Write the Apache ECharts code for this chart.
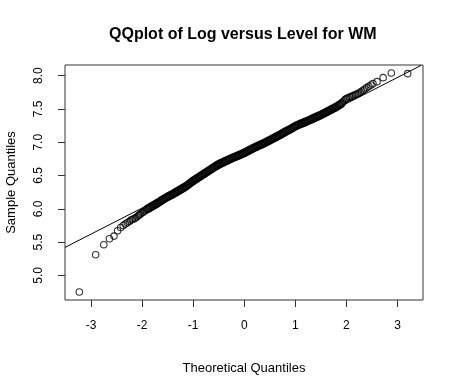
<!DOCTYPE html>
<html>
<head>
<meta charset="utf-8">
<script src="https://cdn.jsdelivr.net/npm/echarts@6/dist/echarts.min.js"></script>
<style>
html,body{margin:0;padding:0;background:#fff;}
#chart{width:450px;height:382px;}
</style>
</head>
<body>
<div id="chart"></div>
<script>
const titleText = "QQplot of Log versus Level for WM";
const xName = "Theoretical Quantiles";
const yName = "Sample Quantiles";
const xTicks = [-3, -2, -1, 0, 1, 2, 3];
const yTicks = [5.0, 5.5, 6.0, 6.5, 7.0, 7.5, 8.0];

const theoretical = [
 -3.23,-2.91,-2.75,-2.64,-2.55,-2.48,-2.42,-2.37,-2.33,-2.29,-2.25,-2.22,-2.19,-2.16,-2.13,-2.10,-2.07,-2.05,-2.03,
 -2.000,-1.975,-1.950,-1.925,-1.900,-1.875,-1.850,-1.825,-1.800,-1.775,-1.750,-1.725,-1.700,-1.675,-1.650,-1.625,
 -1.600,-1.575,-1.550,-1.525,-1.500,-1.475,-1.450,-1.425,-1.400,-1.375,-1.350,-1.325,-1.300,-1.275,-1.250,-1.225,
 -1.200,-1.175,-1.150,-1.125,-1.100,-1.075,-1.050,-1.025,-1.000,-0.975,-0.950,-0.925,-0.900,-0.875,-0.850,-0.825,
 -0.800,-0.775,-0.750,-0.725,-0.700,-0.675,-0.650,-0.625,-0.600,-0.575,-0.550,-0.525,-0.500,-0.475,-0.450,-0.425,
 -0.400,-0.375,-0.350,-0.325,-0.300,-0.275,-0.250,-0.225,-0.200,-0.175,-0.150,-0.125,-0.100,-0.075,-0.050,-0.025,
 0.000,0.025,0.050,0.075,0.100,0.125,0.150,0.175,0.200,0.225,0.250,0.275,0.300,0.325,0.350,0.375,
 0.400,0.425,0.450,0.475,0.500,0.525,0.550,0.575,0.600,0.625,0.650,0.675,0.700,0.725,0.750,0.775,
 0.800,0.825,0.850,0.875,0.900,0.925,0.950,0.975,1.000,1.025,1.050,1.075,1.100,1.125,1.150,1.175,
 1.200,1.225,1.250,1.275,1.300,1.325,1.350,1.375,1.400,1.425,1.450,1.475,1.500,1.525,1.550,1.575,
 1.600,1.625,1.650,1.675,1.700,1.725,1.750,1.775,1.800,1.825,1.850,1.875,1.900,1.925,1.950,1.975,2.000,
 2.03,2.06,2.09,2.12,2.15,2.18,2.21,2.24,2.27,2.30,2.33,2.36,2.40,2.44,2.48,2.52,2.60,2.72,2.88,3.20
];
const sample = [
 4.75,5.31,5.46,5.55,5.59,5.67,5.72,5.75,5.77,5.79,5.81,5.83,5.84,5.85,5.86,5.88,5.90,5.91,5.925,
 5.940,5.952,5.966,5.981,5.995,6.006,6.017,6.029,6.040,6.051,6.063,6.074,6.085,6.098,6.110,6.122,
 6.135,6.146,6.158,6.169,6.180,6.190,6.200,6.210,6.220,6.231,6.243,6.254,6.265,6.276,6.288,6.299,
 6.310,6.322,6.335,6.347,6.360,6.375,6.390,6.405,6.420,6.432,6.445,6.457,6.470,6.482,6.495,6.507,
 6.520,6.532,6.545,6.557,6.570,6.582,6.595,6.607,6.620,6.632,6.645,6.657,6.670,6.679,6.688,6.696,
 6.705,6.714,6.722,6.731,6.740,6.749,6.758,6.766,6.775,6.782,6.790,6.798,6.805,6.814,6.822,6.831,
 6.840,6.850,6.860,6.870,6.880,6.890,6.900,6.910,6.920,6.929,6.938,6.946,6.955,6.964,6.972,6.981,
 6.990,7.000,7.010,7.020,7.030,7.040,7.050,7.060,7.070,7.080,7.090,7.100,7.110,7.121,7.133,7.144,
 7.155,7.165,7.175,7.185,7.195,7.206,7.218,7.229,7.240,7.249,7.258,7.266,7.275,7.282,7.290,7.298,
 7.305,7.314,7.322,7.331,7.340,7.349,7.358,7.366,7.375,7.384,7.392,7.401,7.410,7.420,7.430,7.440,
 7.450,7.460,7.470,7.480,7.490,7.500,7.510,7.520,7.530,7.542,7.555,7.567,7.580,7.600,7.620,7.640,7.655,
 7.665,7.675,7.685,7.695,7.705,7.715,7.725,7.735,7.750,7.765,7.780,7.800,7.820,7.840,7.860,7.880,7.910,7.970,8.040,8.030
];
// reference line (qqline) end points
const lineX = [-3.51, 3.46];
const lineY = [5.42, 8.153];

const tailPts = [], corePts = [];
theoretical.forEach((x, i) => {
  (Math.abs(x) <= 1.9 ? corePts : tailPts).push([x, sample[i]]);
});
const linePts = lineX.map((x, i) => [x, lineY[i]]);

const font = "'Liberation Sans', Arial, Helvetica, sans-serif";
const chart = echarts.init(document.getElementById('chart'), null, {renderer: 'canvas'});
chart.setOption({
  animation: false,
  backgroundColor: '#ffffff',
  title: {
    text: titleText,
    left: 104, top: 22,
    textStyle: {fontFamily: font, fontSize: 16, fontWeight: 'bold', color: '#000'}
  },
  grid: {left: 65, right: 27, top: 65, bottom: 82, containLabel: false, outerBoundsMode: 'none',
    show: true, borderColor: '#333', borderWidth: 1, backgroundColor: 'transparent'},
  xAxis: {
    type: 'value', min: -3.51, max: 3.5,
    name: xName, nameLocation: 'middle', nameGap: 62,
    nameTextStyle: {fontFamily: font, fontSize: 13, color: '#000'},
    axisLine: {show: false, onZero: false},
    splitLine: {show: false},
    axisTick: {show: true, length: 7, customValues: xTicks, lineStyle: {color: '#333'}},
    axisLabel: {customValues: xTicks, margin: 20, fontFamily: font, fontSize: 12, color: '#000'}
  },
  yAxis: {
    type: 'value', min: 4.63, max: 8.16,
    name: yName, nameLocation: 'middle', nameGap: 47, nameRotate: 90,
    nameTextStyle: {fontFamily: font, fontSize: 13, color: '#000'},
    axisLine: {show: false, onZero: false},
    splitLine: {show: false},
    axisTick: {show: true, length: 7, customValues: yTicks, lineStyle: {color: '#333'}},
    axisLabel: {customValues: yTicks, rotate: 90, margin: 20, fontFamily: font, fontSize: 12, color: '#000',
      formatter: v => Number(v).toFixed(1)}
  },
  series: [
    {
      type: 'scatter', data: tailPts, symbol: 'circle', symbolSize: 6.5,
      itemStyle: {color: 'rgba(0,0,0,0)', borderColor: '#000', borderWidth: 1.1},
      silent: true, z: 2
    },
    {
      type: 'scatter', data: corePts, symbol: 'circle', symbolSize: 7,
      itemStyle: {color: 'rgba(0,0,0,0)', borderColor: '#000', borderWidth: 1.6},
      silent: true, z: 2
    },
    {
      type: 'line', data: linePts, symbol: 'none', clip: true,
      lineStyle: {color: '#000', width: 1}, silent: true, z: 3
    }
  ]
});
</script>
</body>
</html>
